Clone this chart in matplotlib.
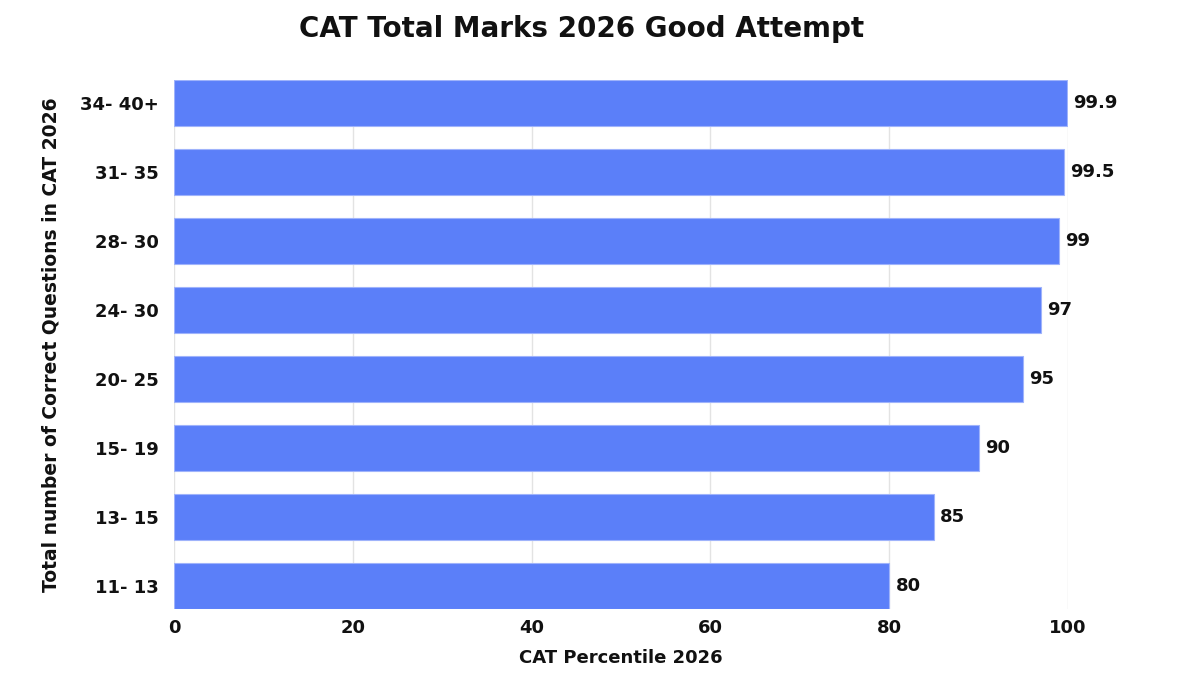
import matplotlib
matplotlib.use("Agg")
import matplotlib.pyplot as plt

categories = ["11- 13", "13- 15", "15- 19", "20- 25", "24- 30", "28- 30", "31- 35", "34- 40+"]
percentiles = [80, 85, 90, 95, 97, 99, 99.5, 99.9]
value_labels = ["80", "85", "90", "95", "97", "99", "99.5", "99.9"]
x_ticks = [0, 20, 40, 60, 80, 100]

plt.rcParams['font.family'] = ['DejaVu Sans']

fig = plt.figure(figsize=(12, 6.85), dpi=100)
ax = fig.add_axes([0.145, 0.111, 0.745, 0.772])

bars = ax.barh(range(len(categories)), percentiles, height=0.67,
               color="#5b7ff9", edgecolor="#9fb3fb", linewidth=0.8, zorder=3)
for b, lab in zip(bars, value_labels):
    ax.text(b.get_width() + 0.7, b.get_y() + b.get_height() / 2, lab,
            va="center", ha="left", fontsize=13, fontweight="bold", color="#111111")

ax.set_xlim(0, 100)
ax.set_ylim(-0.335, len(categories) - 0.665)
ax.set_yticks(range(len(categories)))
ax.set_yticklabels(categories, fontsize=13, fontweight="bold")
ax.set_xticks(x_ticks)
ax.set_xticklabels([str(t) for t in x_ticks], fontsize=13, fontweight="bold")
ax.tick_params(axis="both", length=0, colors="#111111")
ax.tick_params(axis="y", pad=11)
ax.tick_params(axis="x", pad=7)
ax.grid(axis="x", color="#e3e3e3", linewidth=1, zorder=0)
for s in ax.spines.values():
    s.set_visible(False)

ax.set_xlabel("CAT Percentile 2026", fontsize=13, fontweight="bold", labelpad=9, color="#111111")
ax.set_ylabel("Total number of Correct Questions in CAT 2026", fontsize=13.5, fontweight="bold",
              labelpad=14, color="#111111")
fig.text(0.485, 0.958, "CAT Total Marks 2026 Good Attempt", fontsize=20, fontweight="bold",
         ha="center", va="center", color="#111111")

fig.savefig("out.png", dpi=100, facecolor="white")
